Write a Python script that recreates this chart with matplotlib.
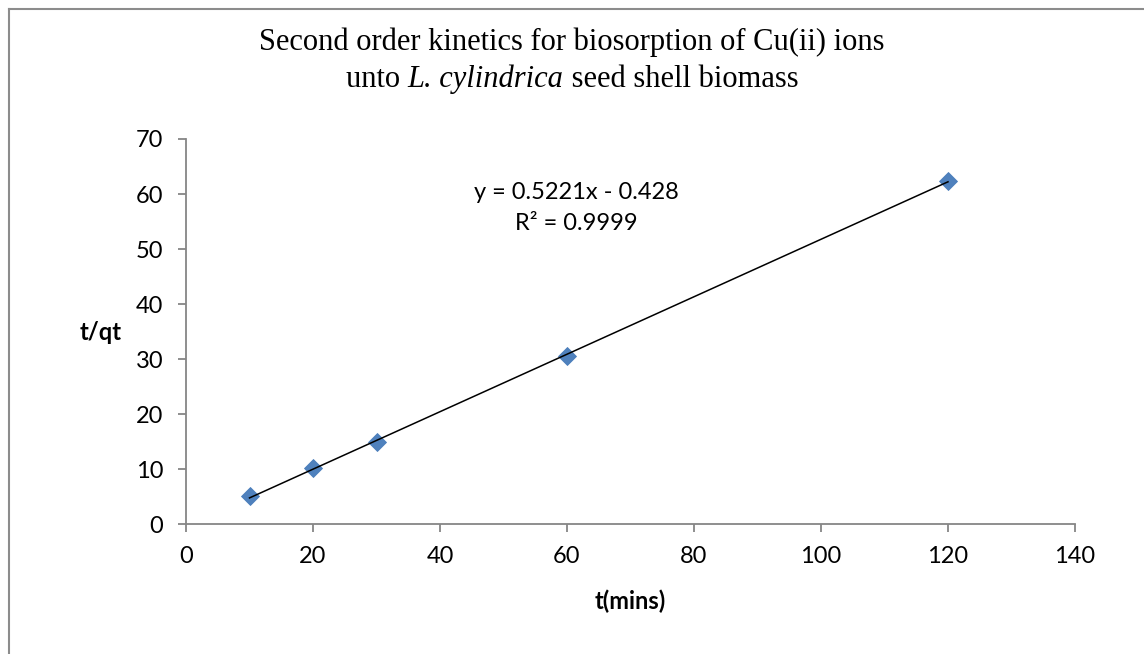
import matplotlib
matplotlib.use("Agg")
import matplotlib.pyplot as plt
from matplotlib.lines import Line2D
import numpy as np

# ---- data ----
t_mins = [10, 20, 30, 60, 120]
t_over_qt = [5.1, 10.2, 15.0, 30.6, 62.4]
slope = 0.5221
intercept = -0.428
r_squared = 0.9999
x_ticks = [0, 20, 40, 60, 80, 100, 120, 140]
y_ticks = [0, 10, 20, 30, 40, 50, 60, 70]
title_line1 = "Second order kinetics for biosorption of Cu(ii) ions"
title_line2 = ["unto ", "L. cylindrica", " seed shell biomass"]
x_label = "t(mins)"
y_label = "t/qt"

W, H = 1144, 654
fig = plt.figure(figsize=(W / 100, H / 100), dpi=100)
fig.patch.set_facecolor("white")

sans = ["Lato", "DejaVu Sans"]
serif = ["Liberation Serif", "DejaVu Serif"]
axis_gray = "#868686"
fs = 17

ax = fig.add_axes([186 / W, 1 - 524.3 / H, (1075 - 186) / W, (524.3 - 139) / H])
ax.set_xlim(0, 140)
ax.set_ylim(0, 70)
ax.set_xticks(x_ticks)
ax.set_yticks(y_ticks)
for s in ["top", "right"]:
    ax.spines[s].set_visible(False)
for s in ["left", "bottom"]:
    ax.spines[s].set_color(axis_gray)
    ax.spines[s].set_linewidth(1.3)
ax.tick_params(axis="both", direction="out", length=5.5, width=1.3, color=axis_gray,
               labelsize=fs)
ax.tick_params(axis="y", pad=11)
ax.tick_params(axis="x", pad=10)
for lab in ax.get_xticklabels() + ax.get_yticklabels():
    lab.set_fontfamily(sans)

# trendline
xs = np.array([min(t_mins), max(t_mins)])
ax.plot(xs, slope * xs + intercept, color="black", lw=1.1, zorder=3)
# points
ax.plot(t_mins, t_over_qt, linestyle="none", marker="D", markersize=9.6,
        markerfacecolor="#4F81BD", markeredgecolor="#4A7EBB", markeredgewidth=0.6,
        zorder=2, clip_on=False)

ax.text(61.4, 60.2, f"y = {slope}x - {abs(intercept)}", family=sans, fontsize=fs,
        ha="center", va="center")
ax.text(61.4, 54.7, f"R² = {r_squared}", family=sans, fontsize=fs,
        ha="center", va="center")

# axis labels
fig.text(630.5 / W, 1 - 601 / H, x_label, family=sans, fontsize=fs, fontweight="bold",
         ha="center", va="center")
fig.text(122 / W, 1 - 333 / H, y_label, family=sans, fontsize=fs, fontweight="bold",
         ha="right", va="center")

# title
title_size = 22
fig.text(0.5, 1 - 50 / H, title_line1, family=serif, fontsize=title_size,
         ha="center", va="baseline")
renderer = fig.canvas.get_renderer()
parts = []
styles = ["normal", "italic", "normal"]
for txt, st in zip(title_line2, styles):
    parts.append(fig.text(0, 1 - 87 / H, txt, family=serif, fontsize=title_size,
                          style=st, ha="left", va="baseline"))
widths = [p.get_window_extent(renderer).width for p in parts]
total = sum(widths)
x0 = (W - total) / 2
for p, w in zip(parts, widths):
    p.set_x(x0 / W)
    x0 += w

# outer border (left and top visible)
fig.add_artist(Line2D([8.7 / W, 8.7 / W], [0, 1 - 8.7 / H], transform=fig.transFigure,
                      color="#8c8c8c", lw=1.5))
fig.add_artist(Line2D([8.7 / W, 1], [1 - 8.7 / H, 1 - 8.7 / H], transform=fig.transFigure,
                      color="#8c8c8c", lw=1.5))

fig.savefig("out.png", dpi=100, facecolor="white")
